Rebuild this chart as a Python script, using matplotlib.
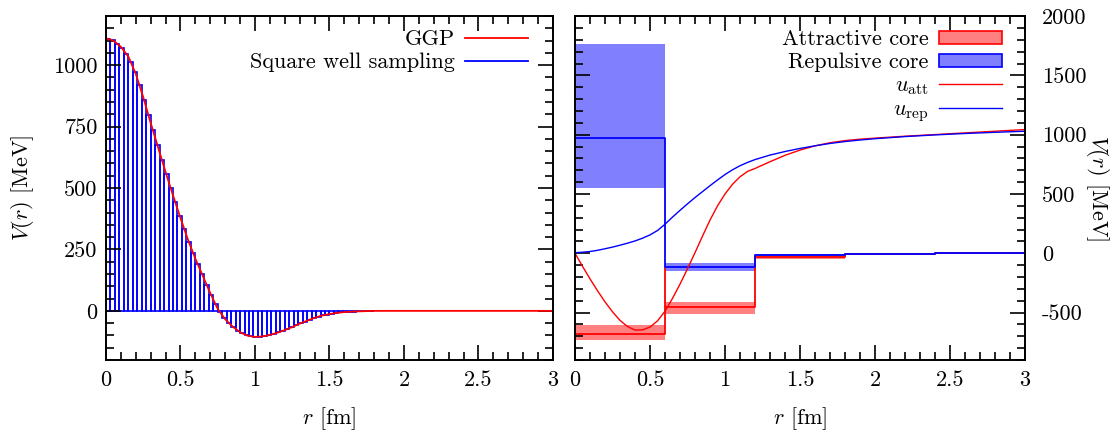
import numpy as np
import matplotlib
matplotlib.use("Agg")
import matplotlib.pyplot as plt
from matplotlib.patches import Patch
from matplotlib.lines import Line2D

plt.rcParams['font.family'] = 'serif'
plt.rcParams['font.serif'] = ['cmr10']
plt.rcParams['mathtext.fontset'] = 'cm'
plt.rcParams['axes.unicode_minus'] = False
plt.rcParams['font.size'] = 16

# ---- left panel data: GGP potential and its square-well sampling ----
ggp_r = [0.00, 0.05, 0.10, 0.15, 0.20, 0.25, 0.30, 0.35, 0.40, 0.45, 0.50, 0.55,
         0.60, 0.65, 0.70, 0.75, 0.80, 0.85, 0.90, 0.95, 1.00, 1.05, 1.10, 1.15,
         1.20, 1.25, 1.30, 1.35, 1.40, 1.45, 1.50, 1.55, 1.60, 1.65, 1.70, 1.75,
         1.80, 2.00, 2.20, 2.40, 2.60, 2.80, 3.00]
ggp_v = [1110, 1100, 1075, 1035, 965, 870, 765, 665, 565, 470, 378, 290,
         212, 142, 72, 8, -34, -64, -87, -101, -106, -104, -98, -89,
         -78, -66, -52, -40, -28, -19, -13, -8, -5, -3, -2, -1,
         0, 0, 0, 0, 0, 0, 0]

well_width = 0.03
well_v = [1107, 1101, 1088, 1071, 1047, 1014, 972, 918, 860, 797,
          735, 675, 615, 556, 499, 442, 387, 334, 282, 235,
          191, 149, 107, 66, 27, -5, -30, -49, -66, -80,
          -91, -100, -104, -106, -105, -102, -99, -94, -88, -81,
          -74, -67, -59, -51, -44, -36, -29, -24, -18, -15,
          -12, -9, -6, -5, -4, -3, -2, -2, -1, -1]

# ---- right panel data: square-well cores and effective potentials ----
core_edges = [0.0, 0.6, 1.2, 1.8, 2.4, 3.0]
att_core = [-677, -452, -35, -8, 0]
att_lo = [-734, -514, -52, -14, -3]
att_hi = [-607, -410, -20, -3, 3]
rep_core = [976, -115, -12, -4, 0]
rep_lo = [554, -152, -20, -7, -2]
rep_hi = [1762, -82, -3, -1, 2]

u_att_r = [0.00, 0.05, 0.10, 0.15, 0.20, 0.25, 0.30, 0.35, 0.40, 0.45, 0.50,
           0.55, 0.60, 0.65, 0.70, 0.75, 0.80, 0.85, 0.90, 0.95, 1.00, 1.05,
           1.10, 1.15, 1.20, 1.30, 1.40, 1.50, 1.60, 1.70, 1.80, 1.90, 2.00,
           2.20, 2.40, 2.60, 2.80, 3.00]
u_att = [0, -110, -216, -316, -410, -494, -566, -618, -648, -646, -622,
         -570, -488, -380, -260, -130, 5, 145, 280, 400, 500, 582,
         645, 690, 715, 772, 826, 870, 906, 932, 950, 962, 971,
         987, 1001, 1015, 1029, 1043]

u_rep_r = [0.00, 0.05, 0.10, 0.15, 0.20, 0.25, 0.30, 0.35, 0.40, 0.45, 0.50,
           0.55, 0.60, 0.65, 0.70, 0.75, 0.80, 0.85, 0.90, 0.95, 1.00, 1.05,
           1.10, 1.15, 1.20, 1.30, 1.40, 1.50, 1.60, 1.70, 1.80, 1.90, 2.00,
           2.20, 2.40, 2.60, 2.80, 3.00]
u_rep = [5, 9, 15, 25, 38, 52, 68, 85, 104, 127, 155,
         192, 245, 305, 362, 417, 470, 520, 570, 618, 664, 704,
         738, 766, 790, 828, 858, 884, 906, 926, 942, 955, 966,
         984, 998, 1010, 1020, 1029]

red = '#ff0000'
blue = '#0000ff'
red_fill = '#ff8080'
blue_fill = '#8080ff'

fig = plt.figure(figsize=(11.12, 4.37), dpi=100)
ax1 = fig.add_axes([0.0953, 0.1762, 0.402, 0.787])
ax2 = fig.add_axes([0.5171, 0.1762, 0.4047, 0.787])


def style_axis(ax):
    for s in ax.spines.values():
        s.set_linewidth(1.4)
    ax.tick_params(which='both', direction='in', top=True, bottom=True,
                   left=True, right=True, width=1.2)
    ax.tick_params(which='major', length=11)
    ax.tick_params(which='minor', length=5.5)


# left panel
well_left = np.arange(len(well_v)) * well_width
ax1.bar(well_left, well_v, width=well_width, align='edge', fill=False,
        edgecolor=blue, linewidth=1.2)
ax1.plot(ggp_r, ggp_v, color=red, lw=1.3)
ax1.set_xlim(0, 3)
ax1.set_ylim(-200, 1200)
xt = [0, 0.5, 1, 1.5, 2, 2.5, 3]
ax1.set_xticks(xt, labels=['0', '0.5', '1', '1.5', '2', '2.5', '3'])
ax1.set_xticks(np.arange(0, 3.01, 0.1), minor=True)
ax1.set_yticks([0, 250, 500, 750, 1000], labels=['0', '250', '500', '750', '1000'])
ax1.set_yticks(np.arange(-200, 1201, 50), minor=True)
style_axis(ax1)
ax1.tick_params(axis='x', pad=7.5)
ax1.tick_params(axis='y', pad=6)
ax1.set_xlabel('$r$ [fm]', labelpad=11)
ax1.set_ylabel('$V(r)$ [MeV]', labelpad=12)
h1 = [Line2D([], [], color=red, lw=1.3), Line2D([], [], color=blue, lw=1.3)]
ax1.legend(h1, ['GGP', 'Square well sampling'], loc='upper right',
           bbox_to_anchor=(0.944, 0.96), frameon=False, markerfirst=False,
           handlelength=2.85, borderpad=0, borderaxespad=0,
           labelspacing=0.15, handletextpad=0.45)

# right panel
for i in range(len(att_core)):
    ax2.fill_between(core_edges[i:i + 2], att_lo[i], att_hi[i],
                     color=red_fill, lw=0)
ax2.step(core_edges, att_core + [att_core[-1]], where='post', color=red, lw=1.3)
ax2.vlines(core_edges[1], att_core[1], rep_core[1], color=red, lw=1.3)
for i in range(len(rep_core)):
    ax2.fill_between(core_edges[i:i + 2], rep_lo[i], rep_hi[i],
                     color=blue_fill, lw=0)
ax2.step(core_edges, rep_core + [rep_core[-1]], where='post', color=blue, lw=1.3)
ax2.plot(u_att_r, u_att, color=red, lw=1.0)
ax2.plot(u_rep_r, u_rep, color=blue, lw=1.0)
ax2.set_xlim(0, 3)
ax2.set_ylim(-900, 2000)
ax2.set_xticks(xt, labels=['0', '0.5', '1', '1.5', '2', '2.5', '3'])
ax2.set_xticks(np.arange(0, 3.01, 0.1), minor=True)
yt2 = [-500, 0, 500, 1000, 1500, 2000]
ax2.set_yticks(yt2, labels=[str(v) for v in yt2])
ax2.set_yticks(np.arange(-900, 2001, 100), minor=True)
style_axis(ax2)
ax2.tick_params(axis='y', labelleft=False, labelright=True, pad=12)
ax2.tick_params(axis='x', pad=7.5)
ax2.yaxis.set_label_position('right')
ax2.set_xlabel('$r$ [fm]', labelpad=11)
ax2.set_ylabel('$V(r)$ [MeV]', rotation=-90, labelpad=18)
h2 = [Patch(facecolor=red_fill, edgecolor=red, lw=1.2),
      Patch(facecolor=blue_fill, edgecolor=blue, lw=1.2),
      Line2D([], [], color=red, lw=1.0), Line2D([], [], color=blue, lw=1.0)]
ax2.legend(h2, ['Attractive core', 'Repulsive core', r'$u_{\rm att}$', r'$u_{\rm rep}$'],
           loc='upper right', bbox_to_anchor=(0.949, 0.96), frameon=False,
           markerfirst=False, handlelength=2.85, handleheight=0.55,
           borderpad=0, borderaxespad=0,
           labelspacing=0.15, handletextpad=0.45)

fig.savefig('out.png', dpi=100)
